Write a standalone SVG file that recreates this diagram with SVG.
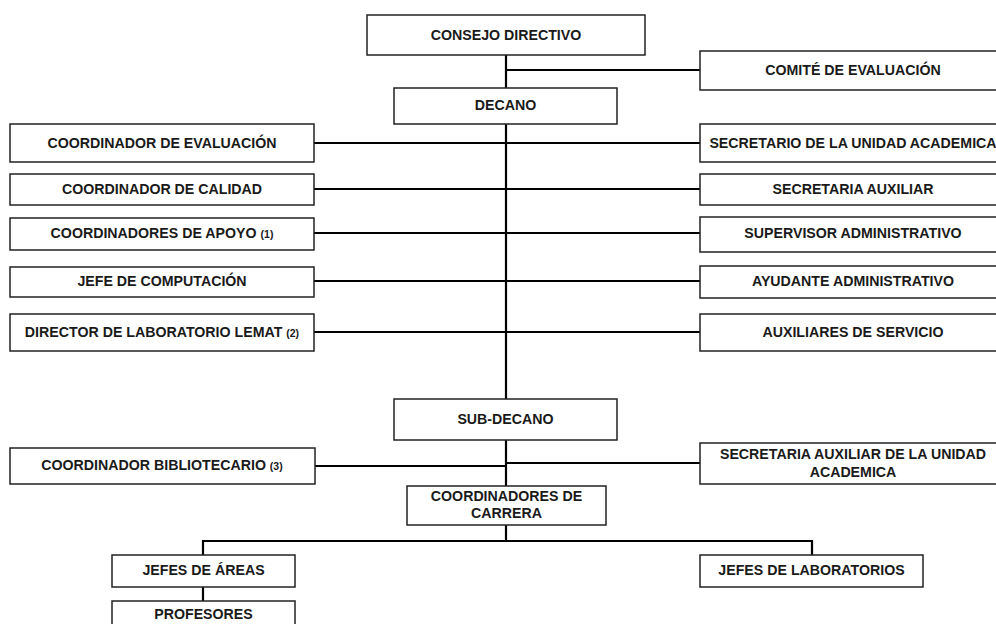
<svg xmlns="http://www.w3.org/2000/svg" width="996" height="624" viewBox="0 0 996 624">
<style>
.box{fill:#fff;stroke:#222;stroke-width:1.5}
.t{font-family:"Liberation Sans",Arial,sans-serif;font-weight:bold;font-size:14.2px;fill:#1a1a1a;text-anchor:middle}
.s{font-size:10.5px}
.c{stroke:#000;stroke-width:2.2;fill:none}
</style>
<rect width="996" height="624" fill="#fff"/>
<g id="connectors">
<path class="c" d="M506 55V88M506 70H700M506 124V399M506 440V486"/>
<path class="c" d="M314 143H506H700M314 189H506H700M314 233H506H700M314 281H506H700M314 332H506H700"/>
<path class="c" d="M315 466H506M506 463H700"/>
<path class="c" d="M506 525V541M203 555V541H812V555M203 587V601"/>
</g>
<g id="consejo"><rect class="box" x="367" y="15" width="278" height="40"/><text class="t" x="506" y="40">CONSEJO DIRECTIVO</text></g>
<g id="comite"><rect class="box" x="700" y="51" width="306" height="39"/><text class="t" x="853" y="75">COMITÉ DE EVALUACIÓN</text></g>
<g id="decano"><rect class="box" x="394" y="88" width="223" height="36"/><text class="t" x="505.5" y="110">DECANO</text></g>
<g id="coord-eval"><rect class="box" x="10" y="124" width="304" height="38"/><text class="t" x="162" y="148">COORDINADOR DE EVALUACIÓN</text></g>
<g id="secretario"><rect class="box" x="700" y="124" width="306" height="38"/><text class="t" x="853" y="148">SECRETARIO DE LA UNIDAD ACADEMICA</text></g>
<g id="coord-calidad"><rect class="box" x="10" y="174" width="304" height="31"/><text class="t" x="162" y="194">COORDINADOR DE CALIDAD</text></g>
<g id="secretaria-aux"><rect class="box" x="700" y="174" width="306" height="31"/><text class="t" x="853" y="194">SECRETARIA AUXILIAR</text></g>
<g id="coord-apoyo"><rect class="box" x="10" y="218" width="304" height="32"/><text class="t" x="162" y="238">COORDINADORES DE APOYO <tspan class="s">(1)</tspan></text></g>
<g id="supervisor"><rect class="box" x="700" y="217" width="306" height="35"/><text class="t" x="853" y="238">SUPERVISOR ADMINISTRATIVO</text></g>
<g id="jefe-comp"><rect class="box" x="10" y="267" width="304" height="30"/><text class="t" x="162" y="286">JEFE DE COMPUTACIÓN</text></g>
<g id="ayudante"><rect class="box" x="700" y="266" width="306" height="32"/><text class="t" x="853" y="286">AYUDANTE ADMINISTRATIVO</text></g>
<g id="director-lab"><rect class="box" x="10" y="314" width="304" height="37"/><text class="t" x="162" y="337">DIRECTOR DE LABORATORIO LEMAT <tspan class="s">(2)</tspan></text></g>
<g id="auxiliares"><rect class="box" x="700" y="314" width="306" height="37"/><text class="t" x="853" y="337">AUXILIARES DE SERVICIO</text></g>
<g id="subdecano"><rect class="box" x="394" y="399" width="223" height="41"/><text class="t" x="505.5" y="424">SUB-DECANO</text></g>
<g id="coord-biblio"><rect class="box" x="10" y="448" width="305" height="36"/><text class="t" x="162" y="470">COORDINADOR BIBLIOTECARIO <tspan class="s">(3)</tspan></text></g>
<g id="secretaria-aux-ua"><rect class="box" x="700" y="443" width="306" height="41"/><text class="t" x="853" y="459">SECRETARIA AUXILIAR DE LA UNIDAD</text><text class="t" x="853" y="477">ACADEMICA</text></g>
<g id="coord-carrera"><rect class="box" x="407" y="486" width="199" height="39"/><text class="t" x="506.5" y="501">COORDINADORES DE</text><text class="t" x="506.5" y="518">CARRERA</text></g>
<g id="jefes-areas"><rect class="box" x="112" y="555" width="183" height="32"/><text class="t" x="203.5" y="575">JEFES DE ÁREAS</text></g>
<g id="jefes-lab"><rect class="box" x="700" y="555" width="223" height="32"/><text class="t" x="811.5" y="575">JEFES DE LABORATORIOS</text></g>
<g id="profesores"><rect class="box" x="112" y="601" width="183" height="35"/><text class="t" x="203.5" y="619">PROFESORES</text></g>
</svg>
